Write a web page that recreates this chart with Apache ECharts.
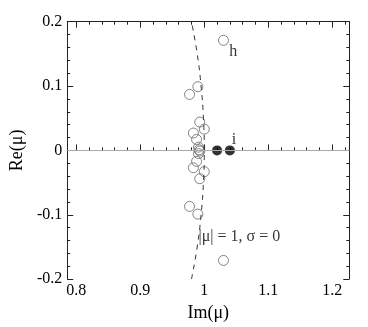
<!DOCTYPE html>
<html>
<head>
<meta charset="utf-8">
<script src="https://cdn.jsdelivr.net/npm/echarts@6/dist/echarts.min.js"></script>
<style>
  html, body { margin: 0; padding: 0; background: #fff; }
  #chart { width: 368px; height: 327px; }
</style>
</head>
<body>
<div id="chart"></div>
<script>
// tick positions on Im(mu) axis
const xMajor = [0.8, 0.9, 1.0, 1.1, 1.2];
const xMinor = [0.82, 0.84, 0.86, 0.88, 0.92, 0.94, 0.96, 0.98, 1.02, 1.04, 1.06, 1.08, 1.12, 1.14, 1.16, 1.18, 1.22];

// open circles (Im, Re)
const openPts = [
  [1.030, 0.171], [0.990, 0.099], [0.977, 0.087], [0.993, 0.044], [1.000, 0.033],
  [0.983, 0.027], [0.988, 0.017], [0.991, 0.005], [0.992, 0.001], [0.993, -0.001],
  [0.991, -0.005], [0.988, -0.017], [0.983, -0.027], [1.000, -0.033], [0.993, -0.044],
  [0.977, -0.087], [0.990, -0.099], [1.030, -0.171]
];

// filled circles
const filledPts = [[1.020, 0], [1.040, 0]];

// dashed curve |mu| = 1
const unitCurve = [
  [0.980, -0.2], [0.989, -0.15], [0.995, -0.1], [0.9987, -0.05], [1.0, 0],
  [0.9987, 0.05], [0.995, 0.1], [0.989, 0.15], [0.980, 0.2]
];

// text annotations [x, y, text]
const notes = [
  [1.039, 0.153, 'h'],
  [1.043, 0.016, 'i'],
  [0.991, -0.135, '|μ| = 1, σ = 0']
];

const xMin = 0.786, xMax = 1.2265;
const font = 'Liberation Serif';
const axisCol = '#222';

const chart = echarts.init(document.getElementById('chart'));

function xAxisOf(pos, values, len, withLabel, withLine) {
  return {
    type: 'value', position: pos, min: xMin, max: xMax,
    axisLine: { show: withLine, lineStyle: { color: axisCol, width: 1 } },
    axisTick: { show: true, inside: true, length: len, customValues: values, lineStyle: { color: axisCol } },
    axisLabel: withLabel
      ? { show: true, customValues: values, margin: 4, color: '#000', fontFamily: font, fontSize: 16, formatter: v => String(+v.toFixed(2)) }
      : { show: false },
    splitLine: { show: false },
    name: withLabel ? 'Im(μ)' : '',
    nameLocation: 'middle', nameGap: 22,
    nameTextStyle: { fontFamily: font, fontSize: 18, color: '#000' }
  };
}

function yAxisOf(pos, withLabel) {
  return {
    type: 'value', position: pos, min: -0.2, max: 0.2, interval: 0.1,
    axisLine: { show: true, lineStyle: { color: axisCol, width: 1 } },
    axisTick: { show: true, inside: true, length: 6, lineStyle: { color: axisCol } },
    minorTick: { show: true, splitNumber: 5, length: 3, lineStyle: { color: axisCol } },
    axisLabel: withLabel
      ? { show: true, margin: 5, color: '#000', fontFamily: font, fontSize: 16, formatter: v => String(+v.toFixed(2)) }
      : { show: false },
    splitLine: { show: false },
    name: withLabel ? 'Re(μ)' : '',
    nameLocation: 'middle', nameGap: 40, nameRotate: 90,
    nameTextStyle: { fontFamily: font, fontSize: 18, color: '#000' }
  };
}

const option = {
  animation: false,
  grid: { left: 57.5, right: 18.7, top: 21.7, bottom: 42 },
  xAxis: [
    xAxisOf('bottom', xMajor, 6, true, true),
    xAxisOf('bottom', xMinor, 3, false, false),
    xAxisOf('top', xMajor, 6, false, true),
    xAxisOf('top', xMinor, 3, false, false)
  ],
  yAxis: [
    yAxisOf('left', true),
    yAxisOf('right', false)
  ],
  series: [
    {
      type: 'line', data: unitCurve, smooth: true, symbol: 'none',
      lineStyle: { color: '#333', width: 1, type: [5, 5] },
      markLine: {
        silent: true, symbol: 'none', label: { show: false },
        lineStyle: { color: '#aaa', width: 1, type: 'solid' },
        data: [{ yAxis: 0 }]
      }
    },
    {
      type: 'scatter', data: openPts, symbol: 'circle', symbolSize: 10,
      itemStyle: { color: 'rgba(255,255,255,0)', borderColor: '#666', borderWidth: 1 }
    },
    {
      type: 'scatter', data: filledPts, symbol: 'circle', symbolSize: 10,
      itemStyle: { color: '#000' }
    },
    {
      type: 'scatter', data: notes, symbolSize: 0,
      label: {
        show: true, position: 'right', distance: 0,
        formatter: p => p.value[2],
        fontFamily: font, fontSize: 16, color: '#000'
      }
    }
  ]
};

chart.setOption(option);
</script>
</body>
</html>
